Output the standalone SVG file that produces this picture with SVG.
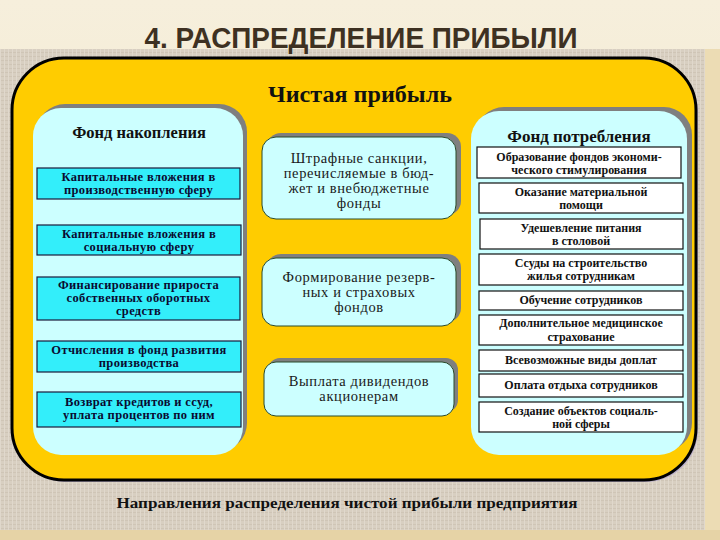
<svg xmlns="http://www.w3.org/2000/svg" width="720" height="540" viewBox="0 0 720 540">
<defs>
<pattern id="tex" width="4" height="4" patternUnits="userSpaceOnUse">
<rect width="4" height="4" fill="#d8cfc1"/>
<rect width="4" height="1" fill="#cfc5b6"/>
<rect width="1" height="4" fill="#e0d8cc"/>
</pattern>
<linearGradient id="top" x1="0" y1="0" x2="0" y2="1">
<stop offset="0" stop-color="#f6efdc"/>
<stop offset="1" stop-color="#efe3c4"/>
</linearGradient>
</defs>
<style>
.title{font-family:"Liberation Sans",Arial,sans-serif;font-weight:bold;fill:#3e3122;}
.hdr{font-family:"Liberation Serif","Times New Roman",serif;font-weight:bold;fill:#111;text-anchor:middle;}
.lt{font-family:"Liberation Serif","Times New Roman",serif;font-weight:bold;font-size:12.5px;letter-spacing:0.35px;fill:#0a0a30;text-anchor:middle;}
.rt{font-family:"Liberation Serif","Times New Roman",serif;font-weight:bold;font-size:12px;fill:#111;text-anchor:middle;}
.mt{font-family:"Liberation Serif","Times New Roman",serif;font-size:14.5px;letter-spacing:0.6px;fill:#1a1a1a;text-anchor:middle;}
.shadow{fill:#7f7f7f;}
.panel{fill:#ccffff;}
.mid{fill:#ccffff;stroke:#2a4a2a;stroke-width:1;}
.lbox{fill:#33eefa;stroke:#1a1a3a;stroke-width:1.2;}
.rbox{fill:#ffffff;stroke:#111;stroke-width:1.2;}
</style>
<rect width="720" height="540" fill="url(#top)"/>
<rect x="0" y="49" width="705" height="481" fill="url(#tex)"/>
<rect x="0" y="530" width="720" height="10" fill="#e6d3a6"/>
<rect x="705" y="49" width="15" height="481" fill="#ecdcb4"/>
<text class="title" x="361" y="48" font-size="29" text-anchor="middle" textLength="433" lengthAdjust="spacingAndGlyphs">4. РАСПРЕДЕЛЕНИЕ ПРИБЫЛИ</text>

<g id="frame">
<rect x="14" y="60" width="684" height="422" rx="52" fill="#b9aec8"/>
<rect x="12" y="58" width="684" height="422" rx="52" fill="#ffcc00" stroke="#000" stroke-width="3"/>
<text class="hdr" x="360" y="102" font-size="23" textLength="184" lengthAdjust="spacingAndGlyphs">Чистая прибыль</text>
</g>

<g id="fond-nakopleniya">
<rect class="shadow" x="37" y="104" width="210" height="347" rx="28"/>
<rect class="panel" x="33" y="108" width="210" height="347" rx="28"/>
<text class="hdr" x="139" y="138" font-size="16.5">Фонд накопления</text>
</g>
<g id="l1">
<rect class="lbox" x="37" y="168" width="203" height="31"/>
<text class="lt" x="138.5" y="181">Капитальные вложения в</text>
<text class="lt" x="138.5" y="194">производственную сферу</text>
</g>
<g id="l2">
<rect class="lbox" x="37" y="225" width="204" height="30"/>
<text class="lt" x="139" y="238">Капитальные вложения в</text>
<text class="lt" x="139" y="251">социальную сферу</text>
</g>
<g id="l3">
<rect class="lbox" x="37" y="277" width="203" height="43"/>
<text class="lt" x="138.5" y="289">Финансирование прироста</text>
<text class="lt" x="138.5" y="302">собственных оборотных</text>
<text class="lt" x="138.5" y="315">средств</text>
</g>
<g id="l4">
<rect class="lbox" x="37" y="341" width="204" height="31"/>
<text class="lt" x="139" y="354">Отчисления в фонд развития</text>
<text class="lt" x="139" y="367">производства</text>
</g>
<g id="l5">
<rect class="lbox" x="37" y="392" width="204" height="35"/>
<text class="lt" x="139" y="406">Возврат кредитов и ссуд,</text>
<text class="lt" x="139" y="419">уплата процентов по ним</text>
</g>

<g id="m1">
<rect class="shadow" x="267" y="133" width="194" height="82" rx="14"/>
<rect class="mid" x="262" y="137" width="194" height="82" rx="14"/>
<text class="mt" x="359" y="163">Штрафные санкции,</text>
<text class="mt" x="359" y="178">перечисляемые в бюд-</text>
<text class="mt" x="359" y="193">жет и внебюджетные</text>
<text class="mt" x="359" y="208">фонды</text>
</g>
<g id="m2">
<rect class="shadow" x="267" y="254" width="194" height="68" rx="14"/>
<rect class="mid" x="262" y="258" width="194" height="68" rx="14"/>
<text class="mt" x="359" y="282">Формирование резерв-</text>
<text class="mt" x="359" y="297">ных и страховых</text>
<text class="mt" x="359" y="312">фондов</text>
</g>
<g id="m3">
<rect class="shadow" x="268" y="358" width="190" height="54" rx="12"/>
<rect class="mid" x="264" y="362" width="190" height="54" rx="12"/>
<text class="mt" x="359" y="386">Выплата дивидендов</text>
<text class="mt" x="359" y="401">акционерам</text>
</g>

<g id="fond-potrebleniya">
<rect class="shadow" x="476" y="107" width="216" height="344" rx="28"/>
<rect class="panel" x="471" y="111" width="216" height="344" rx="28"/>
<text class="hdr" x="579" y="142" font-size="17">Фонд потребления</text>
</g>
<g id="r1">
<rect class="rbox" x="477" y="147" width="204" height="31"/>
<text class="rt" x="579" y="161">Образование фондов экономи-</text>
<text class="rt" x="579" y="174">ческого стимулирования</text>
</g>
<g id="r2">
<rect class="rbox" x="479" y="183" width="204" height="30"/>
<text class="rt" x="581" y="196">Оказание материальной</text>
<text class="rt" x="581" y="209">помощи</text>
</g>
<g id="r3">
<rect class="rbox" x="480" y="219" width="203" height="30"/>
<text class="rt" x="581" y="232">Удешевление питания</text>
<text class="rt" x="581" y="245">в столовой</text>
</g>
<g id="r4">
<rect class="rbox" x="479" y="254" width="204" height="31"/>
<text class="rt" x="581" y="267">Ссуды на строительство</text>
<text class="rt" x="581" y="280">жилья сотрудникам</text>
</g>
<g id="r5">
<rect class="rbox" x="479" y="291" width="204" height="19"/>
<text class="rt" x="581" y="304">Обучение сотрудников</text>
</g>
<g id="r6">
<rect class="rbox" x="479" y="315" width="204" height="30"/>
<text class="rt" x="581" y="327">Дополнительное медицинское</text>
<text class="rt" x="581" y="341">страхование</text>
</g>
<g id="r7">
<rect class="rbox" x="479" y="350" width="204" height="21"/>
<text class="rt" x="581" y="364">Всевозможные виды доплат</text>
</g>
<g id="r8">
<rect class="rbox" x="479" y="374" width="204" height="23"/>
<text class="rt" x="581" y="389">Оплата отдыха сотрудников</text>
</g>
<g id="r9">
<rect class="rbox" x="479" y="402" width="204" height="30"/>
<text class="rt" x="581" y="415">Создание объектов социаль-</text>
<text class="rt" x="581" y="428">ной сферы</text>
</g>

<g id="connectors"></g>

<text class="hdr" x="347" y="508" font-size="15" textLength="461" lengthAdjust="spacingAndGlyphs">Направления распределения чистой прибыли предприятия</text>
</svg>
